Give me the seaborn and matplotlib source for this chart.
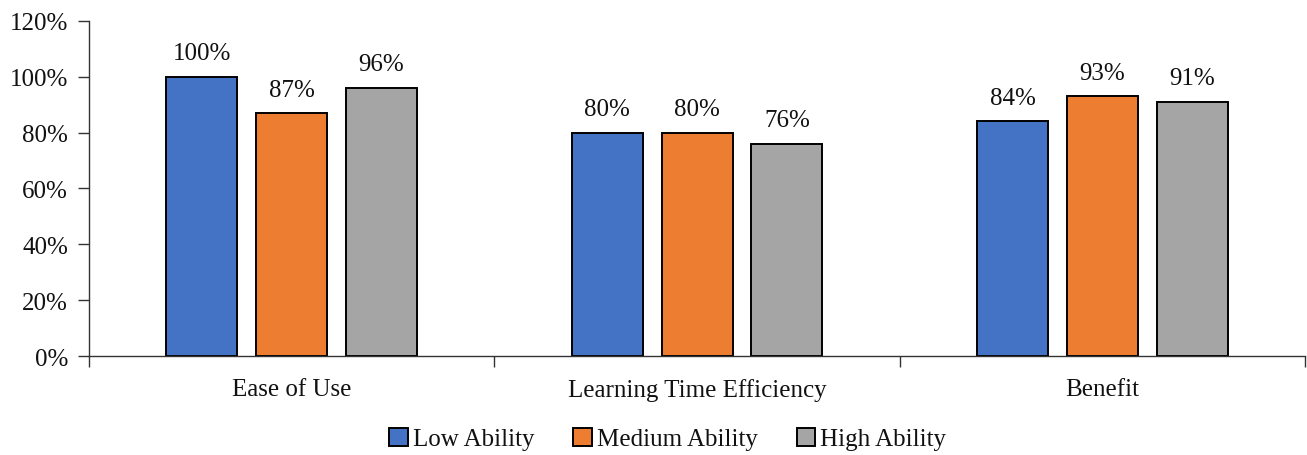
import matplotlib
matplotlib.use("Agg")
import matplotlib.pyplot as plt
import seaborn as sns
import pandas as pd
from matplotlib.ticker import FixedLocator, PercentFormatter
from matplotlib.patches import Patch

categories = ["Ease of Use", "Learning Time Efficiency", "Benefit"]
groups = ["Low Ability", "Medium Ability", "High Ability"]
low_ability = [100, 80, 84]
medium_ability = [87, 80, 93]
high_ability = [96, 76, 91]
y_ticks = [0, 20, 40, 60, 80, 100, 120]

colors = ["#4472C4", "#ED7D31", "#A5A5A5"]

rows = []
for g, vals in zip(groups, [low_ability, medium_ability, high_ability]):
    for c, v in zip(categories, vals):
        rows.append({"Category": c, "Group": g, "Value": v})
df = pd.DataFrame(rows)

sns.set_theme(style="white")
plt.rcParams["font.family"] = ["Liberation Serif", "DejaVu Serif"]

FS = 18
TXT = "#111111"

fig = plt.figure(figsize=(13.07, 4.56), dpi=100)
ax = fig.add_axes([0.0681, 0.2171, 0.9304, 0.7347])

sns.barplot(data=df, x="Category", y="Value", hue="Group", order=categories,
            hue_order=groups, palette=colors, saturation=1, width=0.665,
            gap=0.21, edgecolor="black", linewidth=1.4, ax=ax, legend=False)

for cont in ax.containers:
    ax.bar_label(cont, labels=[f"{v:.0f}%" for v in cont.datavalues],
                 padding=9, fontsize=FS, color=TXT)

ax.set_ylim(0, 120)
ax.set_xlim(-0.5, 2.5)
ax.set_yticks(y_ticks)
ax.yaxis.set_major_formatter(PercentFormatter(decimals=0))
ax.tick_params(axis="y", direction="out", length=8, width=1, color="#333333",
               labelsize=FS, labelcolor=TXT, left=True, pad=7)
ax.tick_params(axis="x", which="major", length=0, labelsize=FS,
               labelcolor=TXT, pad=16)
ax.xaxis.set_minor_locator(FixedLocator([-0.5, 0.5, 1.5, 2.5]))
ax.tick_params(axis="x", which="minor", direction="out", length=8, width=1,
               color="#333333", bottom=True)
ax.set_xlabel("")
ax.set_ylabel("")

for side in ["top", "right"]:
    ax.spines[side].set_visible(False)
for side in ["left", "bottom"]:
    ax.spines[side].set_color("#333333")
    ax.spines[side].set_linewidth(1)

handles = [Patch(facecolor=c, edgecolor="black", linewidth=1.4) for c in colors]
fig.legend(handles, groups, loc="center", bbox_to_anchor=(0.511, 0.035),
           ncol=3, frameon=False, fontsize=FS, handlelength=0.75,
           handleheight=0.75, handletextpad=0.2, columnspacing=1.55,
           labelcolor=TXT)

fig.savefig("out.png", dpi=100)
